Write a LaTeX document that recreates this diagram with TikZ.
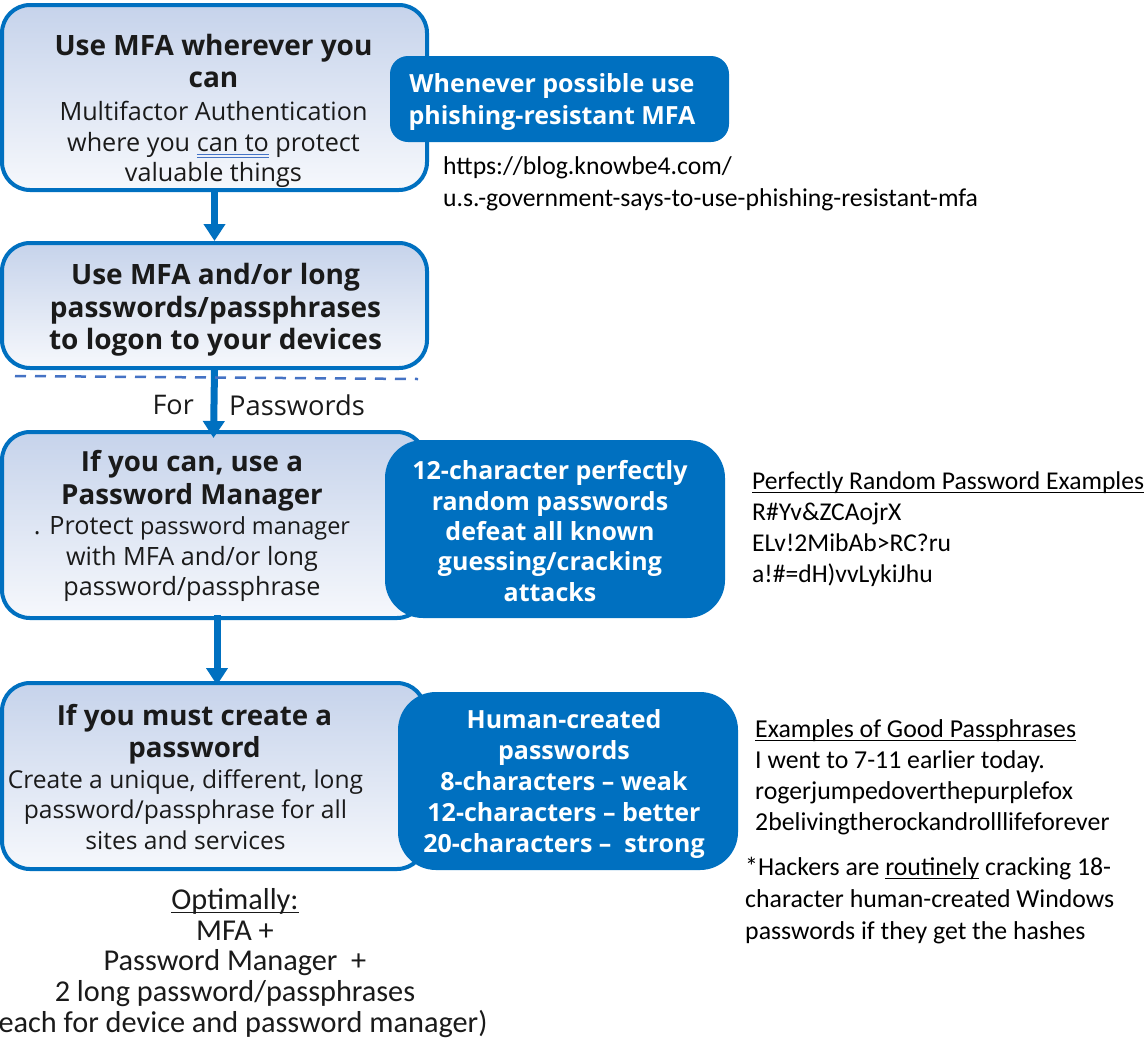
\documentclass[tikz,border=0pt]{standalone}
\usepackage{fontspec}
\usetikzlibrary{arrows.meta,calc}
\setmainfont{Open Sans}
\newfontfamily\seg{Open Sans}
\newfontfamily\calib{Carlito}
\definecolor{mblue}{HTML}{0070C0}
\definecolor{gtop}{HTML}{C6D3EB}
\definecolor{gbot}{HTML}{F6F8FC}
\definecolor{dblue}{HTML}{4472C4}
\definecolor{txt}{HTML}{1A1A1A}
\newcommand\dblu[1]{\setbox0\hbox{#1}\rlap{\color{dblue}\rule[-4pt]{\wd0}{0.9pt}}\rlap{\color{dblue}\rule[-6.5pt]{\wd0}{0.9pt}}\box0\relax}
\newcommand\ulc[1]{\setbox0\hbox{#1}\rlap{\rule[-3.5pt]{\wd0}{1pt}}\box0\relax}
\tikzset{
  lbox/.style={draw=mblue,line width=4pt,rounded corners=28pt,top color=gtop,bottom color=gbot,inner sep=0pt},
  bbox/.style={fill=mblue,draw=none,inner sep=0pt},
  btext/.style={text=white,align=center,inner sep=0pt},
  ltext/.style={text=txt,align=center,inner sep=0pt},
  rtext/.style={text=black,align=left,inner sep=0pt,anchor=north west},
  arr/.style={draw=mblue,line width=7pt,-{Triangle[width=21pt,length=17pt]}}
}
\begin{document}
\begin{tikzpicture}[x=1pt,y=-1pt]
\useasboundingbox (0,0) rectangle (1147,1039);
% left boxes
\node[lbox,minimum width=425pt,minimum height=185pt] (b1) at (214.5,97.5) {};
\node[lbox,minimum width=425pt,minimum height=125pt] (b2) at (214.5,305.5) {};
\node[lbox,minimum width=423pt,minimum height=186pt] (b3) at (213.5,525) {};
\node[lbox,minimum width=423pt,minimum height=186pt] (b4) at (213.5,776) {};
% blue boxes
\node[bbox,rounded corners=18pt,minimum width=339pt,minimum height=86pt] (c1) at (559.5,99) {};
\node[bbox,rounded corners=38pt,minimum width=340pt,minimum height=178pt] (c3) at (555,529) {};
\node[bbox,rounded corners=38pt,minimum width=340pt,minimum height=178pt] (c4) at (568,781) {};
% texts left boxes
\node[ltext,font=\seg\fontsize{25.2}{30.5}\selectfont] (t1) at (213.5,111) {{\fontsize{28}{32}\selectfont\bfseries Use MFA wherever you}\\[1.5pt]{\fontsize{28}{32}\selectfont\bfseries can}\\[3pt]Multifactor Authentication\\where you \dblu{can to} protect\\valuable things};
\node[ltext,font=\seg\fontsize{28}{32.5}\selectfont\bfseries] (t2) at (215.5,310) {Use MFA and/or long\\passwords/passphrases\\to logon to your devices};
\node[ltext,font=\seg\fontsize{25.2}{30.5}\selectfont] (t3) at (192,526) {{\fontsize{27.7}{32}\selectfont\bfseries If you can, use a}\\[2pt]{\fontsize{27.7}{32}\selectfont\bfseries Password Manager}\\. Protect {\fontsize{23.5}{30.5}\selectfont password manager}\\with MFA and/or long\\password/passphrase};
\node[ltext,font=\seg\fontsize{24.6}{30.5}\selectfont] (t4) at (185.5,777) {\hspace*{18pt}{\fontsize{27.7}{32}\selectfont\bfseries If you must create a}\\[2pt]\hspace*{18pt}{\fontsize{27.7}{32}\selectfont\bfseries password}\\Create a unique, different, long\\password/passphrase for all\\sites and services};
% texts blue boxes
\node[btext,font=\seg\fontsize{25}{32}\selectfont\bfseries] (u1) at (552,102) {Whenever possible use\\phishing-resistant MFA};
\node[btext,font=\seg\fontsize{25}{30.3}\selectfont\bfseries] (u3) at (550,531) {12-character perfectly\\random passwords\\defeat all known\\guessing/cracking\\attacks};
\node[btext,font=\seg\fontsize{25}{30.8}\selectfont\bfseries] (u4) at (564,784) {Human-created\\passwords\\8-characters – weak\\12-characters – better\\20-characters –\ \ strong};
% arrows
\draw[arr] (b1.south) -- (b2.north);
\draw[arr] (b2.south) -- ([yshift=-8pt]b3.north);
\draw[arr] ([xshift=3.5pt,yshift=5pt]b3.south) -- ([xshift=3.5pt,yshift=-4pt]b4.north);
% dashed line
\coordinate (dl) at (15,376);
\coordinate (dr) at (418,379);
\draw[dblue,line width=2.5pt,dash pattern=on 11pt off 9pt] (dl) -- (dr);
\node[text=txt,font=\seg\fontsize{27}{30}\selectfont,anchor=east,inner sep=0pt] (for) at (194,405) {For};
\node[text=txt,font=\seg\fontsize{27.3}{30}\selectfont,anchor=west,inner sep=0pt] (pw) at (229,405) {Passwords};
% right texts
\node[rtext,font=\calib\fontsize{25.7}{32}\selectfont] (url) at (443,156) {https://blog.knowbe4.com/\\u.s.-government-says-to-use-phishing-resistant-mfa};
\node[rtext,font=\calib\fontsize{25.6}{30.7}\selectfont] (rnd) at (752,472) {\ulc{Perfectly Random Password Examples}\\R\#Yv\&ZCAojrX\\ELv!2MibAb>RC?ru\\a!\#=dH)vvLykiJhu};
\node[rtext,font=\calib\fontsize{25.8}{31}\selectfont] (pp) at (755,719) {\ulc{Examples of Good Passphrases}\\I went to 7-11 earlier today.\\rogerjumpedoverthepurplefox\\2belivingtherockandrolllifeforever};
\node[rtext,font=\calib\fontsize{25.8}{32}\selectfont] (hk) at (745,857) {*Hackers are \ulc{routinely} cracking 18-\\character human-created Windows\\passwords if they get the hashes};
% bottom
\node[text=txt,align=center,inner sep=0pt,font=\calib\fontsize{30.3}{30.8}\selectfont] (opt) at (235,963) {\ulc{Optimally:}\\MFA +\\Password Manager\ \ +\\2 long password/passphrases\\\hspace*{16pt}each for device and password manager)};
\end{tikzpicture}
\end{document}
